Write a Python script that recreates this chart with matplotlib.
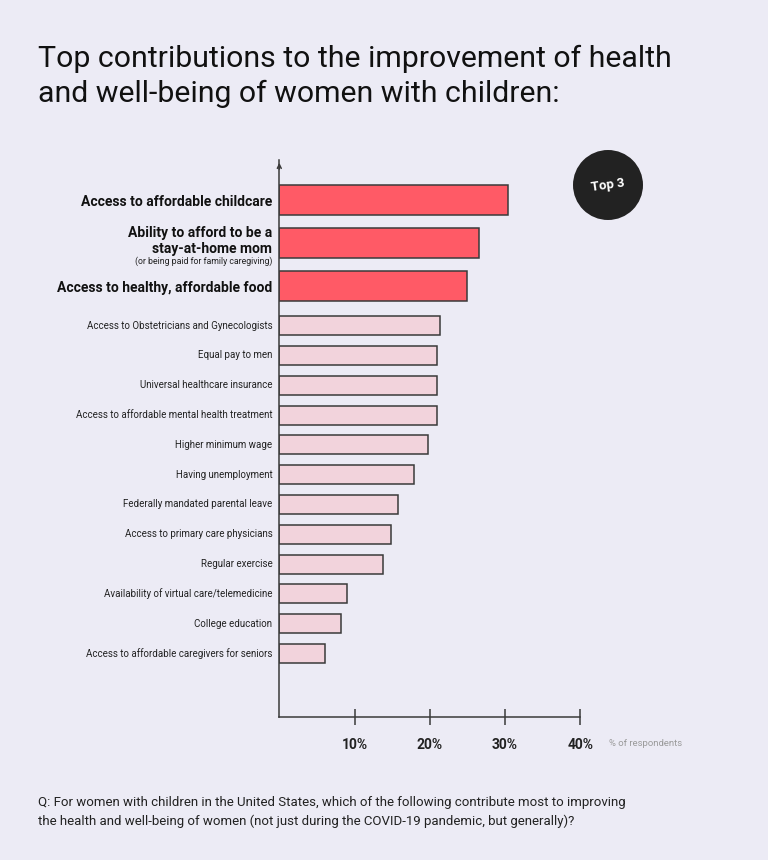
import matplotlib.pyplot as plt
from matplotlib.patches import Circle

plt.rcParams['font.family'] = ['Roboto', 'DejaVu Sans']

categories = [
    "Access to affordable childcare",
    "Ability to afford to be a\nstay-at-home mom",
    "Access to healthy, affordable food",
    "Access to Obstetricians and Gynecologists",
    "Equal pay to men",
    "Universal healthcare insurance",
    "Access to affordable mental health treatment",
    "Higher minimum wage",
    "Having unemployment",
    "Federally mandated parental leave",
    "Access to primary care physicians",
    "Regular exercise",
    "Availability of virtual care/telemedicine",
    "College education",
    "Access to affordable caregivers for seniors",
]
values = [30.4, 26.6, 24.9, 21.4, 20.9, 20.9, 20.9, 19.7, 17.9, 15.8, 14.8, 13.8, 9.0, 8.2, 6.1]
is_top = [True, True, True] + [False] * 12
ticks = [10, 20, 30, 40]
tick_labels = ["10%", "20%", "30%", "40%"]

BG = "#ECEBF5"
RED = "#FF5A66"
PINK = "#F2D3DC"
EDGE = "#3A3A3A"

# y positions: bigger spacing for the top 3
ypos = []
y = 1.34
for i, top in enumerate(is_top):
    if i > 0:
        if top:
            y += 1.44
        elif is_top[i - 1]:
            y += 1.34
        else:
            y += 1.0
    ypos.append(y)

fig = plt.figure(figsize=(7.68, 8.6), dpi=100)
fig.patch.set_facecolor(BG)
ax = fig.add_axes([279.3 / 768, (860 - 717) / 860, 301 / 768, 557 / 860])
ax.set_facecolor(BG)

for yy, v, top in zip(ypos, values, is_top):
    ax.barh(yy, v, height=1.0 if top else 0.64,
            color=RED if top else PINK, edgecolor=EDGE, linewidth=1.1)

ax.set_xlim(0, 40)
ax.set_ylim(557 / 29.8, 0)

for s in ["top", "right"]:
    ax.spines[s].set_visible(False)
ax.spines["left"].set_color(EDGE)
ax.spines["bottom"].set_color(EDGE)
ax.spines["left"].set_linewidth(1.1)
ax.spines["bottom"].set_linewidth(1.1)
ax.set_yticks([])
ax.set_xticks(ticks)
ax.set_xticklabels(tick_labels, fontsize=10, fontweight="bold", color="#222222")
ax.tick_params(axis="x", direction="inout", length=12, width=1.1, color=EDGE, pad=9)

# arrow head on y axis
ax.annotate("", xy=(0, 0), xytext=(0, 0.4), xycoords="data",
            arrowprops=dict(arrowstyle="->", color=EDGE, lw=1.1, mutation_scale=7),
            annotation_clip=False)

ax.annotate("% of respondents", xy=(40, 557 / 29.8), xytext=(21, -19),
            textcoords="offset points", fontsize=6.8, color="#9A9A9A",
            ha="left", va="center", annotation_clip=False)

# category labels
for yy, lab, top in zip(ypos, categories, is_top):
    if top:
        if "\n" in lab:
            ax.annotate(lab, xy=(0, yy), xytext=(-5, 1.5), textcoords="offset points",
                        ha="right", va="center", fontsize=10, fontweight="bold",
                        color="#111111", linespacing=1.2, annotation_clip=False)
            ax.annotate("(or being paid for family caregiving)", xy=(0, yy),
                        xytext=(-5, -13.3), textcoords="offset points", ha="right",
                        va="center", fontsize=6.3, color="#222222", annotation_clip=False)
        else:
            ax.annotate(lab, xy=(0, yy), xytext=(-5, -1.5), textcoords="offset points",
                        ha="right", va="center", fontsize=10, fontweight="bold",
                        color="#111111", annotation_clip=False)
    else:
        ax.annotate(lab, xy=(0, yy), xytext=(-5, 0), textcoords="offset points",
                    ha="right", va="center", fontsize=7, color="#222222",
                    annotation_clip=False)

# Top 3 badge
badge = Circle((6.08, 8.6 - 1.85), 0.35, transform=fig.dpi_scale_trans,
               facecolor="#222222", edgecolor="none")
fig.add_artist(badge)
fig.text(608 / 768, 1 - 185 / 860, "Top 3", color="white", fontsize=9.5,
         fontweight="bold", ha="center", va="center", rotation=8)

fig.text(38 / 768, 1 - 76 / 860,
         "Top contributions to the improvement of health\nand well-being of women with children:",
         fontsize=21.8, color="#111111", ha="left", va="center", linespacing=1.3)

fig.text(38 / 768, 1 - 812 / 860,
         "Q: For women with children in the United States, which of the following contribute most to improving\n"
         "the health and well-being of women (not just during the COVID-19 pandemic, but generally)?",
         fontsize=9.5, color="#222222", ha="left", va="center", linespacing=1.55)

fig.savefig("out.png", dpi=100, facecolor=BG)
